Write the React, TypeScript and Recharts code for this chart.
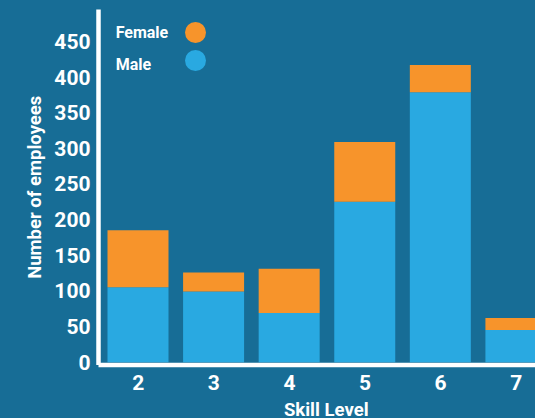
import React from 'react';
import { BarChart, Bar, XAxis, YAxis, Legend } from 'recharts';

const skills = ['2', '3', '4', '5', '6', '7'];
const male = [105, 99, 69, 225, 379, 45];
const female = [80, 27, 62, 84, 38, 17];
const yTicks = [0, 50, 100, 150, 200, 250, 300, 350, 400, 450];
const legendOrder = ['Female', 'Male'];

const data = skills.map((s, i) => ({ skill: s, Male: male[i], Female: female[i] }));

const BG = '#176d96';
const MALE = '#29a9e1';
const FEMALE = '#f7942b';
const FONT = 'Roboto, sans-serif';

const LegendContent = (props: any) => {
  const items = legendOrder
    .map((n) => (props.payload || []).find((p: any) => p.value === n))
    .filter(Boolean);
  return (
    <svg width={220} height={80} style={{ display: 'block', overflow: 'visible' }}>
      {items.map((it: any, i: number) => (
        <g key={it.value}>
          <text x={115.7} y={i === 0 ? 38.3 : 70} fill="#fff" fontSize={16} fontWeight={700} fontFamily={FONT}>
            {it.value}
          </text>
          <circle cx={195.5} cy={i === 0 ? 32.5 : 60.5} r={10.5} fill={it.color} />
        </g>
      ))}
    </svg>
  );
};

const YLabel = (props: any) => {
  const vb = props.viewBox;
  const bx = vb.x + 40.5;
  const cy = vb.y + vb.height / 2;
  return (
    <text transform={`translate(${bx}, ${cy}) rotate(-90)`} textAnchor="middle" fill="#fff" fontSize={18.5} fontWeight={700} fontFamily={FONT}>
      Number of employees
    </text>
  );
};

const XLabel = (props: any) => {
  const vb = props.viewBox;
  return (
    <text x={vb.x + vb.width / 2} y={vb.y + vb.height - 2} textAnchor="middle" fill="#fff" fontSize={18.5} fontWeight={700} fontFamily={FONT}>
      Skill Level
    </text>
  );
};

export default function App() {
  return (
    <div style={{ position: 'absolute', left: 0, top: 0, width: 535, height: 418, overflow: 'hidden', background: BG }}>
      <BarChart width={560} height={418} data={data} margin={{ top: 9.5, right: 6, bottom: 0, left: 0 }} barSize={61}>
        <XAxis
          dataKey="skill"
          height={53}
          padding={{ left: 2, right: 0 }}
          axisLine={{ stroke: '#fff', strokeWidth: 4.5 }}
          tickLine={false}
          tickSize={8}
          tickMargin={2}
          interval={0}
          tick={{ fill: '#fff', fontSize: 21, fontWeight: 700, fontFamily: FONT }}
          label={<XLabel />}
        />
        <YAxis
          width={98.5}
          domain={[-4, 495]}
          ticks={yTicks}
          interval={0}
          allowDataOverflow
          axisLine={{ stroke: '#fff', strokeWidth: 4.5 }}
          tickLine={false}
          tickSize={6}
          tickMargin={2}
          tick={{ fill: '#fff', fontSize: 21, fontWeight: 700, fontFamily: FONT }}
          label={<YLabel />}
        />
        <Legend
          layout="vertical"
          align="center"
          verticalAlign="top"
          wrapperStyle={{ position: 'absolute', top: 0, left: 0, width: 220, height: 0, overflow: 'visible' }}
          content={<LegendContent />}
        />
        <Bar dataKey="Male" stackId="a" fill={MALE} isAnimationActive={false} />
        <Bar dataKey="Female" stackId="a" fill={FEMALE} isAnimationActive={false} />
      </BarChart>
    </div>
  );
}
